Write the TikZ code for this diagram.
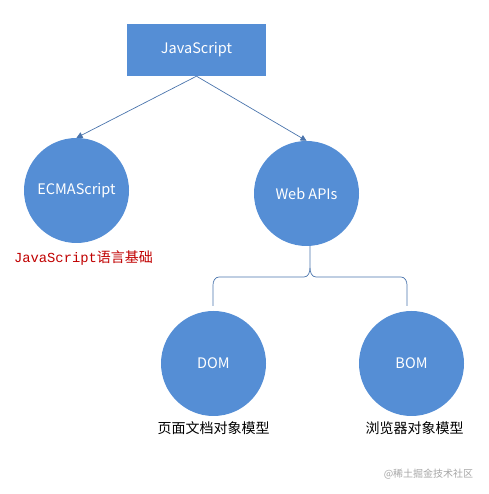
\documentclass[tikz,border=0pt]{standalone}
\usepackage{fontspec}
\setmainfont{Noto Sans CJK SC}
\newfontfamily\cjk{Noto Sans CJK SC}
\newfontfamily\codefont{Liberation Mono}
\usepackage{tikz}
\usetikzlibrary{arrows.meta,positioning}

\definecolor{boxblue}{HTML}{558ED5}
\definecolor{lineblue}{HTML}{4A74AC}
\definecolor{labelred}{HTML}{C00000}

\begin{document}
\begin{tikzpicture}[x=1pt,y=1pt,>={Triangle[length=6pt,width=6pt]},
		main node/.style={circle,fill=boxblue,minimum size=105pt,inner sep=0pt,text=white,font=\cjk\fontsize{14.5}{16}\selectfont},
		top node/.style={rectangle,fill=boxblue,minimum width=139pt,minimum height=52pt,inner sep=0pt,text=white,font=\cjk\fontsize{14.5}{16}\selectfont},
		note/.style={font=\cjk\fontsize{14}{16}\selectfont}]
	\useasboundingbox (0,0) rectangle (488,494);

	\node[top node] (js) at (196.5,444) {JavaScript};
	\node[main node] (ecma) at (76.5,303.5) {ECMAScript};
	\node[main node] (web) at (306.5,300.5) {Web APIs};
	\node[main node] (dom) at (213.5,130.5) {DOM};
	\node[main node] (bom) at (411.5,130.5) {BOM};

	\node[note,text=labelred] (base) [below=4pt of ecma,xshift=7pt] {{\codefont\fontsize{13.8}{15}\selectfont JavaScript}语言基础};
	\node[note] (domtxt) [below=2pt of dom] {页面文档对象模型};
	\node[note] (bomtxt) [below=2pt of bom,xshift=3pt] {浏览器对象模型};
	\node[font=\cjk\fontsize{10}{12}\selectfont,text=black!35] (mark) at (428.5,20) {@稀土掘金技术社区};

	\draw[->,lineblue,line width=0.7pt] (js.south) -- (ecma.north);
	\draw[->,lineblue,line width=0.7pt] (js.south) -- (web.north);

	% brace down to DOM and BOM
	\coordinate (brace) at (310,226);
	\draw[lineblue,line width=0.7pt]
		(web.south -| brace) -- (brace) to[out=-90,in=0] (304,217)
		-- (219,217) to[out=180,in=90] (213,209) -- (213,188);
	\draw[lineblue,line width=0.7pt]
		(brace) to[out=-90,in=180] (316,217)
		-- (401,217) to[out=0,in=90] (407,209) -- (407,188);
\end{tikzpicture}
\end{document}
